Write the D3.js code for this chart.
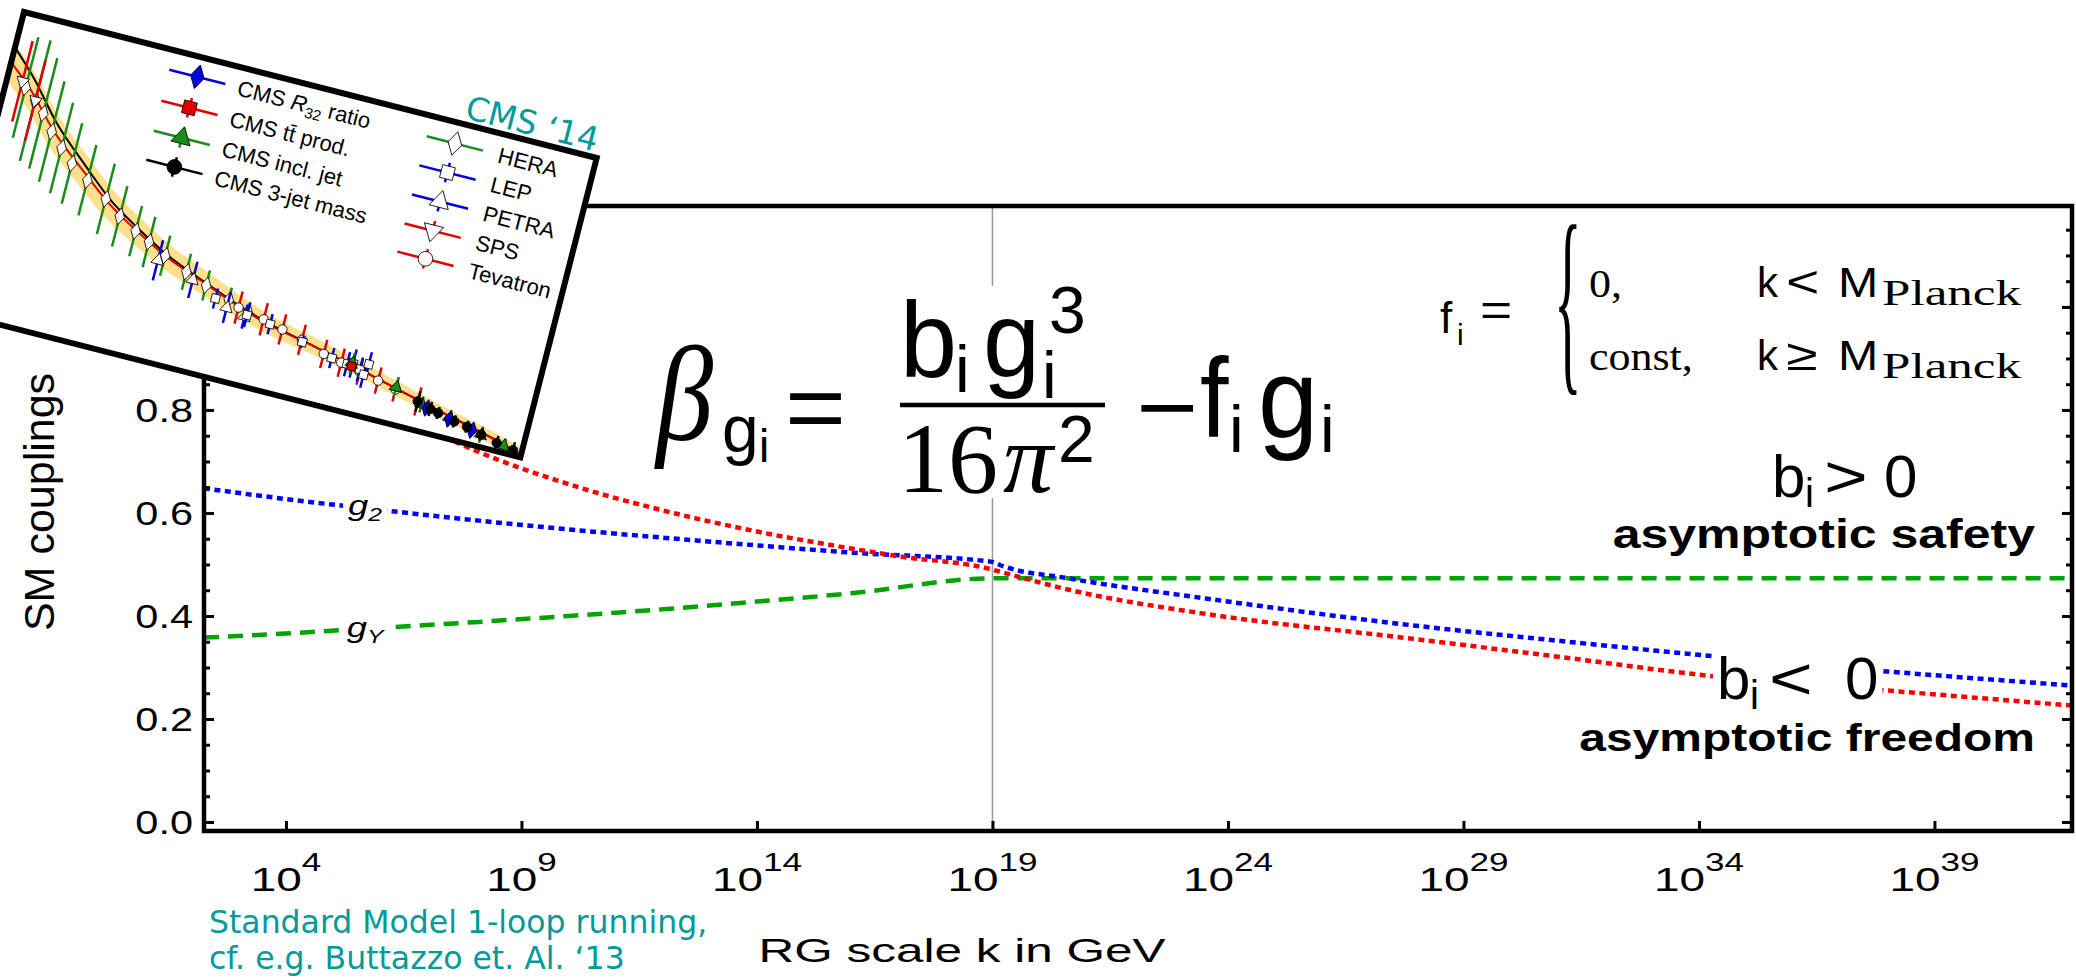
<!DOCTYPE html>
<html>
<head>
<meta charset="utf-8">
<script src="https://cdn.jsdelivr.net/npm/d3@7"></script>
<style>
body {margin: 0; background: #fff}
svg {display: block}
</style>
</head>
<body>
<svg id="chart"></svg>
<script>

var screen = {width: 2076, height: 978}
var frame = {left: 204, right: 2072, top: 206, bottom: 831}

// couplings vs log10(k / GeV)
var g3Exp = [2.26, 4, 6, 8, 10, 12, 14, 16, 17, 19, 19.16, 20.62, 23.53, 27.9, 31, 34.4, 37.9, 41.92]
var g3Val = [1.157, 0.953, 0.814, 0.722, 0.656, 0.605, 0.564, 0.531, 0.516, 0.490, 0.486, 0.451, 0.404, 0.356, 0.321, 0.282, 0.256, 0.226]
var g2Exp = [2.26, 4, 6, 8, 10, 12, 14, 16, 19, 19.16, 20.62, 23.53, 27.9, 31, 34.4, 37.9, 41.92]
var g2Val = [0.648, 0.627, 0.606, 0.586, 0.568, 0.552, 0.537, 0.523, 0.505, 0.499, 0.473, 0.434, 0.382, 0.352, 0.321, 0.293, 0.265]
var gYExp = [2.26, 4, 6, 8, 10, 12, 14, 16, 19, 41.92]
var gYVal = [0.358, 0.366, 0.377, 0.388, 0.400, 0.413, 0.428, 0.444, 0.473, 0.473]

var xTickExp = [4, 9, 14, 19, 24, 29, 34, 39]
var yTicks = [0, 0.2, 0.4, 0.6, 0.8, 1.0]
var planckExp = 19
var labelExp = 5.68

// inset: alpha_s(Q) world data (CMS '14 figure)
var insetQ = [1.5, 2, 3, 4.7, 7, 10, 15, 26, 40, 60, 104, 200, 300, 500, 1000, 1500]
var insetRed = [0.33, 0.31, 0.275, 0.245, 0.22, 0.203, 0.186, 0.169, 0.156, 0.146, 0.137, 0.125, 0.117, 0.107, 0.094, 0.085]
var insetBlack = [0.345, 0.322, 0.284, 0.251, 0.224, 0.206, 0.188, 0.17, 0.157, 0.147, 0.137, 0.125, 0.117, 0.107, 0.094, 0.085]
var insetBand = [0.018, 0.017, 0.016, 0.015, 0.014, 0.013, 0.012, 0.011, 0.01, 0.009, 0.008, 0.007, 0.007, 0.006, 0.006, 0.006]

var heraQ = [1.9, 2.2, 2.5, 2.9, 3.4, 4, 5, 6.5, 8, 10, 12, 15, 20, 26, 35, 45]
var heraA = [0.31, 0.30, 0.29, 0.275, 0.262, 0.25, 0.238, 0.225, 0.212, 0.202, 0.195, 0.186, 0.176, 0.168, 0.16, 0.153]
var heraE = [0.05, 0.06, 0.055, 0.05, 0.045, 0.04, 0.035, 0.035, 0.03, 0.025, 0.025, 0.02, 0.018, 0.015, 0.012, 0.01]
var lepQ = [30, 45, 60, 91, 133, 161, 172, 189, 200, 206]
var lepA = [0.158, 0.15, 0.147, 0.138, 0.13, 0.128, 0.13, 0.126, 0.122, 0.133]
var lepE = [0.01, 0.012, 0.01, 0.006, 0.01, 0.012, 0.014, 0.012, 0.013, 0.012]
var petraQ = [14, 22, 35, 44]
var petraA = [0.18, 0.17, 0.152, 0.148]
var petraE = [0.02, 0.018, 0.015, 0.012]
var spsQ = [1.8, 2.2]
var spsA = [0.315, 0.3]
var spsE = [0.04, 0.04]
var tevQ = [40, 55, 70, 90, 120, 150, 190, 240, 300, 400]
var tevA = [0.155, 0.15, 0.145, 0.14, 0.132, 0.128, 0.124, 0.12, 0.116, 0.11]
var tevE = [0.016, 0.016, 0.015, 0.015, 0.014, 0.014, 0.013, 0.013, 0.012, 0.014]
var jetQ = [170, 300, 420, 600, 900, 1200]
var jetA = [0.13, 0.118, 0.108, 0.102, 0.094, 0.089]
var jetE = [0.01, 0.01, 0.008, 0.008, 0.008, 0.007]
var r32Q = [450, 600, 800]
var r32A = [0.106, 0.101, 0.096]
var r32E = [0.005, 0.005, 0.005]
var ttQ = [170]
var ttA = [0.127]
var ttE = [0.004]
var threeQ = [400, 470, 520, 640, 750, 900, 1100, 1350]
var threeA = [0.11, 0.106, 0.104, 0.1, 0.098, 0.094, 0.09, 0.087]
var threeE = [0.01, 0.007, 0.006, 0.006, 0.006, 0.006, 0.007, 0.008]

var legendLeft = ["CMS R32 ratio", "CMS tt prod.", "CMS incl. jet", "CMS 3-jet mass"]
var legendRight = ["HERA", "LEP", "PETRA", "SPS", "Tevatron"]

var sans = "'Liberation Sans', Arial, sans-serif"
var serif = "'Liberation Serif', 'Times New Roman', serif"
var teal = "#009a9a"

var svg = d3.select("#chart")
    .attr("width", screen.width)
    .attr("height", screen.height)

var put = function(g, x, y, str, o)
{
    o = o || {}
    return g.append("text")
        .attr("transform", "translate(" + x + "," + y + ") scale(" + (o.sx || 1) + ",1)" + (o.rot ? " rotate(" + o.rot + ")" : ""))
        .attr("text-anchor", o.anchor || "start")
        .style("font-family", o.family || sans)
        .style("font-size", (o.size || 30) + "px")
        .style("font-style", o.italic ? "italic" : "normal")
        .style("font-weight", o.bold ? "bold" : "normal")
        .attr("fill", o.color || "#000")
        .text(str)
}

var zip = function(xs, ys) { return xs.map(function(x, i) { return [x, ys[i]] }) }

var xScale = d3.scaleLog()
    .domain([Math.pow(10, 2.26), Math.pow(10, 41.92)])
    .range([frame.left, frame.right])
var yScale = d3.scaleLinear()
    .domain([-0.0175, 1.196])
    .range([frame.bottom, frame.top])

svg.append("clipPath").attr("id", "plotclip")
    .append("rect")
    .attr("x", frame.left).attr("y", frame.top)
    .attr("width", frame.right - frame.left).attr("height", frame.bottom - frame.top)

// Planck scale marker
svg.append("line")
    .attr("x1", xScale(Math.pow(10, planckExp))).attr("x2", xScale(Math.pow(10, planckExp)))
    .attr("y1", frame.top).attr("y2", frame.bottom)
    .attr("stroke", "#999").attr("stroke-width", 1.5)

var lineGen = d3.line()
    .x(function(d) { return xScale(Math.pow(10, d[0])) })
    .y(function(d) { return yScale(d[1]) })
    .curve(d3.curveMonotoneX)

var curves = svg.append("g").attr("clip-path", "url(#plotclip)")
    .attr("fill", "none").attr("stroke-width", 4.5)
curves.append("path").datum(zip(gYExp, gYVal)).attr("d", lineGen)
    .attr("stroke", "#00a400").attr("stroke-dasharray", "15,9")
curves.append("path").datum(zip(g2Exp, g2Val)).attr("d", lineGen)
    .attr("stroke", "#0000ff").attr("stroke-dasharray", "6,4.5")
curves.append("path").datum(zip(g3Exp, g3Val)).attr("d", lineGen)
    .attr("stroke", "#ff0000").attr("stroke-dasharray", "6,4.5")

// frame + inward ticks
svg.append("rect")
    .attr("x", frame.left).attr("y", frame.top)
    .attr("width", frame.right - frame.left).attr("height", frame.bottom - frame.top)
    .attr("fill", "none").attr("stroke", "#000").attr("stroke-width", 4.5)

var yMinor = d3.range(0, 1.2, 0.05)
var tickStyle = function(g)
{
    g.select(".domain").remove()
    g.selectAll("line").attr("stroke-width", 3)
}
svg.append("g").attr("transform", "translate(" + frame.left + ",0)")
    .call(d3.axisLeft(yScale).tickValues(yMinor).tickSizeInner(-6).tickSizeOuter(0).tickFormat(""))
    .call(tickStyle)
svg.append("g").attr("transform", "translate(" + frame.right + ",0)")
    .call(d3.axisRight(yScale).tickValues(yMinor).tickSizeInner(-6).tickSizeOuter(0).tickFormat(""))
    .call(tickStyle)
svg.append("g").attr("transform", "translate(" + frame.right + ",0)")
    .call(d3.axisRight(yScale).tickValues(yTicks).tickSizeInner(-10).tickSizeOuter(0).tickFormat(""))
    .call(tickStyle)
var yAx = svg.append("g").attr("transform", "translate(" + frame.left + ",0)")
    .call(d3.axisLeft(yScale).tickValues(yTicks).tickSizeInner(-10).tickSizeOuter(0).tickPadding(11).tickFormat(d3.format(".1f")))
    .call(tickStyle)
yAx.selectAll("text")
    .attr("dy", null).attr("y", 0).attr("x", 0)
    .attr("transform", "translate(-11,12) scale(1.22,1)")
    .style("font-family", sans).style("font-size", "34px")

svg.append("g").attr("transform", "translate(0," + frame.bottom + ")")
    .call(d3.axisBottom(xScale).tickValues(xTickExp.map(function(e) { return Math.pow(10, e) }))
        .tickSizeInner(-10).tickSizeOuter(0).tickFormat(""))
    .call(tickStyle)

var xl = svg.append("g").selectAll("text")
    .data(xTickExp)
    .enter()
    .append("text")
    .attr("transform", function(e) { return "translate(" + xScale(Math.pow(10, e)) + ",891) scale(1.35,1)" })
    .attr("text-anchor", "middle")
    .style("font-family", sans)
xl.append("tspan").style("font-size", "34px").text("10")
xl.append("tspan").style("font-size", "26px").attr("dy", -20).text(function(e) { return e })

put(svg, 962, 962, "RG scale k in GeV", {anchor: "middle", size: 33, sx: 1.5})
put(svg, 54, 502, "SM couplings", {anchor: "middle", size: 43, rot: -90})

// curve labels sitting in gaps of the lines
var curveLabel = function(y, sub)
{
    var g = svg.append("g")
    var t = put(g, xScale(Math.pow(10, labelExp)), y + 8, "g", {anchor: "middle", size: 28, italic: true, sx: 1.3})
    t.append("tspan").attr("dy", 6).style("font-size", "19px").text(sub)
    var b = g.node().getBBox()
    g.insert("rect", "text").attr("x", b.x - 5).attr("y", b.y).attr("width", b.width + 10).attr("height", b.height).attr("fill", "#fff")
}
curveLabel(yScale(0.611), "2")
curveLabel(yScale(0.375), "Y")

// beta function
var fm = svg.append("g")
fm.append("rect").attr("x", 898).attr("y", 286).attr("width", 212).attr("height", 212).attr("fill", "#fff")
put(fm, 656, 440, "β", {family: serif, italic: true, size: 135, sx: 0.85})
put(fm, 722, 452, "g", {size: 66})
put(fm, 759, 462, "i", {size: 46})
put(fm, 785, 440, "=", {size: 95, sx: 1.1})
fm.append("line").attr("x1", 900).attr("x2", 1105).attr("y1", 405).attr("y2", 405)
    .attr("stroke", "#000").attr("stroke-width", 4.5)
put(fm, 900, 377, "b", {size: 108, sx: 0.95})
put(fm, 955, 392, "i", {size: 66})
put(fm, 983, 377, "g", {size: 108, sx: 0.95})
put(fm, 1042, 398, "i", {size: 66})
put(fm, 1049, 333, "3", {size: 66})
put(fm, 898, 492, "16", {family: serif, size: 100})
put(fm, 1003, 492, "π", {family: serif, italic: true, size: 100})
put(fm, 1058, 462, "2", {size: 66})
put(fm, 1136, 440, "−", {size: 95, sx: 1.12})
put(fm, 1200, 437, "f", {size: 114, sx: 0.9})
put(fm, 1229, 452, "i", {size: 66})
put(fm, 1258, 437, "g", {size: 114, sx: 0.95})
put(fm, 1320, 452, "i", {size: 66})

// f_i piecewise definition
var pw = svg.append("g")
put(pw, 1440, 333, "f", {size: 44})
put(pw, 1457, 345, "i", {size: 30})
put(pw, 1480, 326, "=", {size: 46, sx: 1.2})
pw.append("text")
    .attr("transform", "translate(1554,367) scale(0.8,2.87)")
    .style("font-family", serif).style("font-size", "72px").text("{")
put(pw, 1589, 297, "0,", {family: serif, size: 40, sx: 1.1})
put(pw, 1757, 297, "k", {size: 42})
put(pw, 1786, 297, "<", {size: 44, sx: 1.3})
put(pw, 1838, 297, "M", {size: 42, sx: 1.15})
put(pw, 1882, 305, "Planck", {family: serif, size: 36, sx: 1.42})
put(pw, 1589, 370, "const,", {family: serif, size: 40, sx: 1.1})
put(pw, 1757, 370, "k", {size: 42})
put(pw, 1786, 370, "≥", {size: 44, sx: 1.3})
put(pw, 1838, 370, "M", {size: 42, sx: 1.15})
put(pw, 1882, 378, "Planck", {family: serif, size: 36, sx: 1.42})

// b_i labels
var bLabel = function(x, y, rel, gap)
{
    var g = svg.append("g")
    put(g, x, y, "b", {size: 60})
    put(g, x + 33, y + 10, "i", {size: 40})
    put(g, x + 52, y, rel, {size: 60, sx: 1.25})
    put(g, x + gap, y, "0", {size: 60})
    var b = g.node().getBBox()
    g.insert("rect", "text").attr("x", b.x - 4).attr("y", b.y + 8).attr("width", b.width + 8).attr("height", b.height - 16).attr("fill", "#fff")
}
bLabel(1772, 497, ">", 112)
bLabel(1717, 699, "<", 128)
put(svg, 2035, 548, "asymptotic safety", {anchor: "end", bold: true, size: 40, sx: 1.25})
put(svg, 2035, 751, "asymptotic freedom", {anchor: "end", bold: true, size: 39, sx: 1.23})

// citation
put(svg, 209, 933, "Standard Model 1-loop running,", {family: "'DejaVu Sans', sans-serif", size: 31.5, color: teal})
put(svg, 209, 969, "cf. e.g. Buttazzo et. Al. \u201813", {family: "'DejaVu Sans', sans-serif", size: 31.5, color: teal})

// ---------- inset ----------
var insetW = 591, insetH = 309
var inset = svg.append("g").attr("transform", "translate(24,12) rotate(14.3)")
inset.append("clipPath").attr("id", "insetclip")
    .append("rect").attr("width", insetW).attr("height", insetH)
inset.append("rect").attr("width", insetW).attr("height", insetH).attr("fill", "#fff")

var qScale = d3.scaleLog().domain([1.5, 1500]).range([0, insetW])
var aScale = d3.scaleLinear().domain([0.33, 0.085]).range([52, 306])

var ins = inset.append("g").attr("clip-path", "url(#insetclip)")
ins.append("path")
    .datum(insetQ.map(function(q, i) { return [q, insetRed[i], insetBand[i]] }))
    .attr("d", d3.area()
        .x(function(d) { return qScale(d[0]) })
        .y0(function(d) { return aScale(d[1] - d[2]) })
        .y1(function(d) { return aScale(d[1] + d[2]) })
        .curve(d3.curveMonotoneX))
    .attr("fill", "#fddf8c")
var insetLine = d3.line()
    .x(function(d) { return qScale(d[0]) })
    .y(function(d) { return aScale(d[1]) })
    .curve(d3.curveMonotoneX)
ins.append("path").datum(zip(insetQ, insetBlack)).attr("d", insetLine)
    .attr("fill", "none").attr("stroke", "#000").attr("stroke-width", 2)
ins.append("path").datum(zip(insetQ, insetRed)).attr("d", insetLine)
    .attr("fill", "none").attr("stroke", "#e00000").attr("stroke-width", 2)

var sym = {
    diamond: d3.symbol().type(d3.symbolDiamond).size(85)(),
    square: d3.symbol().type(d3.symbolSquare).size(70)(),
    triangle: d3.symbol().type(d3.symbolTriangle).size(70)(),
    circle: d3.symbol().type(d3.symbolCircle).size(70)()
}
var sets = [
    {q: heraQ, a: heraA, e: heraE, bar: "#1a8c1a", shape: "diamond", fill: "#fff"},
    {q: spsQ, a: spsA, e: spsE, bar: "#e00000", shape: "triangle", flip: true, fill: "#fff"},
    {q: petraQ, a: petraA, e: petraE, bar: "#0000e0", shape: "triangle", fill: "#fff"},
    {q: tevQ, a: tevA, e: tevE, bar: "#e00000", shape: "circle", fill: "#fff"},
    {q: lepQ, a: lepA, e: lepE, bar: "#0000e0", shape: "square", fill: "#fff"},
    {q: jetQ, a: jetA, e: jetE, bar: "#1a8c1a", shape: "triangle", fill: "#1a8c1a"},
    {q: ttQ, a: ttA, e: ttE, bar: "#e00000", shape: "square", fill: "#e00000"},
    {q: r32Q, a: r32A, e: r32E, bar: "#0000e0", shape: "diamond", fill: "#0000e0"},
    {q: threeQ, a: threeA, e: threeE, bar: "#000", shape: "circle", fill: "#000"}
]
sets.forEach(function(s)
{
    var pts = s.q.map(function(q, i) { return {q: q, a: s.a[i], e: s.e[i]} })
    var g = ins.append("g")
    g.selectAll("line").data(pts).enter().append("line")
        .attr("x1", function(d) { return qScale(d.q) }).attr("x2", function(d) { return qScale(d.q) })
        .attr("y1", function(d) { return aScale(d.a - d.e) }).attr("y2", function(d) { return aScale(d.a + d.e) })
        .attr("stroke", s.bar).attr("stroke-width", 2.5)
    g.selectAll("path").data(pts).enter().append("path")
        .attr("d", sym[s.shape])
        .attr("transform", function(d) { return "translate(" + qScale(d.q) + "," + aScale(d.a) + ")" + (s.flip ? " rotate(180)" : "") })
        .attr("fill", s.fill).attr("stroke", "#000").attr("stroke-width", 0.8)
})

// inset legend
var legendMark = function(u, v, color, shape, fill, flip)
{
    ins.append("line").attr("x1", u - 29).attr("x2", u + 29).attr("y1", v).attr("y2", v)
        .attr("stroke", color).attr("stroke-width", 2.5)
    ins.append("line").attr("x1", u).attr("x2", u).attr("y1", v - 10).attr("y2", v + 10)
        .attr("stroke", color).attr("stroke-width", 2.5)
    ins.append("path").attr("d", d3.symbol().type(shape).size(170)())
        .attr("transform", "translate(" + u + "," + v + ")" + (flip ? " rotate(180)" : ""))
        .attr("fill", fill).attr("stroke", "#000").attr("stroke-width", 0.8)
}
var leftRows = [20, 52, 83, 113]
legendMark(184, leftRows[0], "#0000e0", d3.symbolDiamond, "#0000e0")
legendMark(184, leftRows[1], "#e00000", d3.symbolSquare, "#e00000")
legendMark(184, leftRows[2], "#1a8c1a", d3.symbolTriangle, "#1a8c1a")
legendMark(184, leftRows[3], "#000", d3.symbolCircle, "#000")
legendLeft.forEach(function(name, i)
{
    var t = ins.append("text").attr("x", 226).attr("y", leftRows[i] + 8)
        .style("font-family", sans).style("font-size", "22px")
    if (i == 0) {
        t.append("tspan").text("CMS ")
        t.append("tspan").style("font-style", "italic").text("R")
        t.append("tspan").attr("dy", 5).style("font-size", "15px").text("32")
        t.append("tspan").attr("dy", -5).text(" ratio")
    } else if (i == 1) {
        t.append("tspan").text("CMS t")
        t.append("tspan").text("t\u0304")
        t.append("tspan").text(" prod.")
    } else {
        t.text(name)
    }
})
var rightRows = [21, 51, 81, 111, 140]
legendMark(450, rightRows[0], "#1a8c1a", d3.symbolDiamond, "#fff")
legendMark(450, rightRows[1], "#0000e0", d3.symbolSquare, "#fff")
legendMark(450, rightRows[2], "#0000e0", d3.symbolTriangle, "#fff")
legendMark(450, rightRows[3], "#e00000", d3.symbolTriangle, "#fff", true)
legendMark(450, rightRows[4], "#e00000", d3.symbolCircle, "#fff")
legendRight.forEach(function(name, i)
{
    ins.append("text").attr("x", 495).attr("y", rightRows[i] + 8)
        .style("font-family", sans).style("font-size", "22px").text(name)
})

inset.append("rect").attr("width", insetW).attr("height", insetH)
    .attr("fill", "none").attr("stroke", "#000").attr("stroke-width", 6)
inset.append("text").attr("x", 520).attr("y", -6).attr("text-anchor", "middle")
    .style("font-family", "'DejaVu Sans', sans-serif").style("font-size", "33px")
    .attr("fill", teal).text("CMS \u201814")

</script>
</body>
</html>
